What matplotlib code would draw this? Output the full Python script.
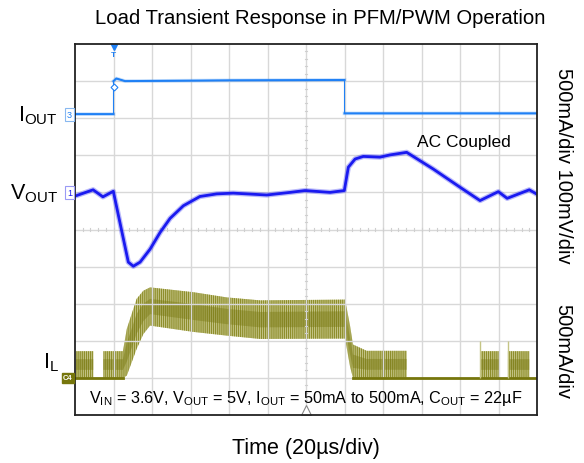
import numpy as np
import matplotlib.pyplot as plt

plt.rcParams['font.family'] = ['Liberation Sans', 'DejaVu Sans']
plt.rcParams['mathtext.fontset'] = 'custom'
plt.rcParams['mathtext.rm'] = 'Liberation Sans'
plt.rcParams['hatch.linewidth'] = 0.9

# time in us (20us/div, 12 div on screen)
iout_t = [0, 20, 20, 21.5, 26, 80, 140, 140, 240]
iout_ma = [55, 55, 500, 535, 500, 510, 515, 65, 65]

vout_t = [0, 9.4, 14.5, 19.9, 27.7, 30.3, 33.8, 39.0, 44.2, 49.4, 56.3, 64.9,
          73.6, 82.2, 99.6, 111.7, 119.5, 132.5, 139.9, 142.0, 145.5, 149.8,
          158.4, 163.6, 172.3, 186.1, 200, 210.4, 219.9, 224.5, 236.0, 240]
vout_mv = [-10, 7, -12, 3, -188, -199, -188, -153, -108, -70, -36, -11,
           -4, -2, -7, 0, 5, 0, 5, 68, 90, 97,
           95, 101, 108, 63, 14, -22, 2, -16, 7, -5]

# inductor current envelope (ripple peaks / valleys), mA
il_t = [0.5, 9.5, 9.5, 14.7, 14.7, 24.9, 26.9, 32.0, 35.5, 39.0, 61.5, 78.8,
        96.1, 140.3, 142.9, 144.4, 151.5, 172.3, 172.3, 210.4, 210.4, 220.4,
        220.4, 224.9, 224.9, 236.0, 236.0, 240]
il_hi = [360, 360, 0, 0, 360, 360, 660, 1065, 1175, 1220, 1155, 1085,
         1045, 1055, 700, 450, 365, 365, 0, 0, 360, 360,
         0, 0, 360, 360, 0, 0]
il_lo = [0, 0, 0, 0, 0, 0, 30, 390, 590, 705, 620, 570,
         525, 530, 150, 0, 0, 0, 0, 0, 0, 0,
         0, 0, 0, 0, 0, 0]
il_spike_t = [210.4, 224.9]
il_spike_ma = [500, 500]

# channel offsets (div) and scales
IOUT_POS, IOUT_SCALE = 8.0, 500.0
VOUT_POS, VOUT_SCALE = 6.0, 100.0
IL_POS, IL_SCALE = 1.0, 500.0

C_IOUT = '#1f80f5'
C_VOUT = '#1a1af0'
C_IL = '#76760c'


def split_steps(t, y):
    tt, yy = [t[0]], [y[0]]
    for i in range(1, len(t)):
        if t[i] == t[i - 1]:
            tt.append(np.nan)
            yy.append(np.nan)
        tt.append(t[i])
        yy.append(y[i])
    return np.array(tt), np.array(yy)


def main():
    fig = plt.figure(figsize=(5.84, 4.64), dpi=100)
    ax = fig.add_axes([75 / 584, 48 / 464, 462 / 584, 371 / 464])
    ax.set_xlim(0, 240)
    ax.set_ylim(0, 10)
    ax.set_xticks(np.arange(20, 240, 20))
    ax.set_yticks(np.arange(1, 10, 1))
    ax.tick_params(length=0, labelbottom=False, labelleft=False)
    ax.grid(color='#d8d8d8', linewidth=1)
    for s in ax.spines.values():
        s.set_linewidth(1.3)
        s.set_color('#222222')

    # minor ticks on centre cross
    for y in np.arange(0.2, 10, 0.2):
        ax.plot([120 - 0.7, 120 + 0.7], [y, y], color='#cfcfcf', lw=0.8)
    for x in np.arange(4, 240, 4):
        ax.plot([x, x], [5 - 0.04, 5 + 0.04], color='#cfcfcf', lw=0.8)

    # IL
    t = np.array(il_t)
    hi = IL_POS + np.array(il_hi) / IL_SCALE
    lo = IL_POS + np.array(il_lo) / IL_SCALE
    ax.fill_between(t, lo, hi, facecolor='#cdcd95', edgecolor='#8e8e2c',
                    hatch='||||||||', linewidth=0)
    band = hi - lo
    ax.fill_between(t, lo + 0.3 * band, hi - 0.3 * band, facecolor='#7a7a14',
                    alpha=0.45, linewidth=0)
    base = np.where(np.array(il_lo) == 0, lo, np.nan)
    ax.plot(t, base, color=C_IL, lw=2)
    ax.vlines(il_spike_t, IL_POS, IL_POS + np.array(il_spike_ma) / IL_SCALE,
              color='#c5c585', lw=1)

    # VOUT
    vt = np.array(vout_t)
    vy = VOUT_POS + np.array(vout_mv) / VOUT_SCALE
    ax.plot(vt, vy, color=C_VOUT, lw=3.8, alpha=0.3)
    ax.plot(vt, vy, color=C_VOUT, lw=2.0)

    # IOUT
    it = np.array(iout_t)
    iy = IOUT_POS + np.array(iout_ma) / IOUT_SCALE
    ax.plot(it, iy, color=C_IOUT, lw=0.8)
    st, sy = split_steps(it, iy)
    ax.plot(st, sy, color=C_IOUT, lw=2.6, alpha=0.25)
    ax.plot(st, sy, color=C_IOUT, lw=1.4)
    ax.plot(20, 8.85, marker='D', ms=3.5, mfc='white', mec=C_IOUT, mew=0.8)

    # trigger marker
    ax.plot(20, 9.93, marker='v', ms=5, color=C_IOUT, clip_on=False)
    ax.text(20, 9.72, 'T', color=C_IOUT, fontsize=6, ha='center', va='center',
            fontweight='bold')
    # centre position marker
    ax.plot(120, 0.13, marker='^', ms=7, mfc='white', mec='#888888', mew=0.8)

    # channel tags
    tag = dict(boxstyle='square,pad=0.2', fc='white', lw=0.8)
    ax.text(-1.6, 8.1, '3', fontsize=6.5, color=C_IOUT, ha='right', va='center',
            bbox=dict(tag, ec='#88b8f0'), clip_on=False)
    ax.text(-1.6, 6.0, '1', fontsize=6.5, color=C_VOUT, ha='right', va='center',
            bbox=dict(tag, ec='#9a9af5'), clip_on=False)
    ax.text(-1.2, 1.0, 'C4', fontsize=5.5, color='white', ha='right', va='center',
            fontweight='bold', bbox=dict(boxstyle='square,pad=0.2', fc=C_IL,
                                         ec=C_IL), clip_on=False)

    # trace labels
    ax.text(-9, 8.1, r'I$_{\mathrm{OUT}}$', fontsize=15.5, ha='right',
            va='center', clip_on=False)
    ax.text(-9, 6.0, r'V$_{\mathrm{OUT}}$', fontsize=15.5, ha='right',
            va='center', clip_on=False)
    ax.text(-8.5, 1.45, r'I$_{\mathrm{L}}$', fontsize=15.5, ha='right',
            va='center', clip_on=False)

    ax.text(177.5, 7.36, 'AC Coupled', fontsize=12.5, va='center')
    ax.text(120, 0.48, r'V$_{\mathrm{IN}}$ = 3.6V, V$_{\mathrm{OUT}}$ = 5V, '
            r'I$_{\mathrm{OUT}}$ = 50mA to 500mA, C$_{\mathrm{OUT}}$ = 22µF',
            fontsize=11.7, ha='center', va='center')

    # right side scale labels
    fig.text(563 / 584, 1 - 166 / 464, '500mA/div 100mV/div', rotation=-90,
             fontsize=14.5, ha='center', va='center')
    fig.text(563 / 584, 1 - 352 / 464, '500mA/div', rotation=-90,
             fontsize=14.5, ha='center', va='center')

    fig.text(320 / 584, 1 - 18 / 464, 'Load Transient Response in PFM/PWM Operation',
             fontsize=14.6, ha='center', va='center')
    fig.text(306 / 584, 1 - 449 / 464, 'Time (20µs/div)', fontsize=15.5,
             ha='center', va='center')

    plt.savefig('out.png', dpi=100)


if __name__ == '__main__':
    main()
